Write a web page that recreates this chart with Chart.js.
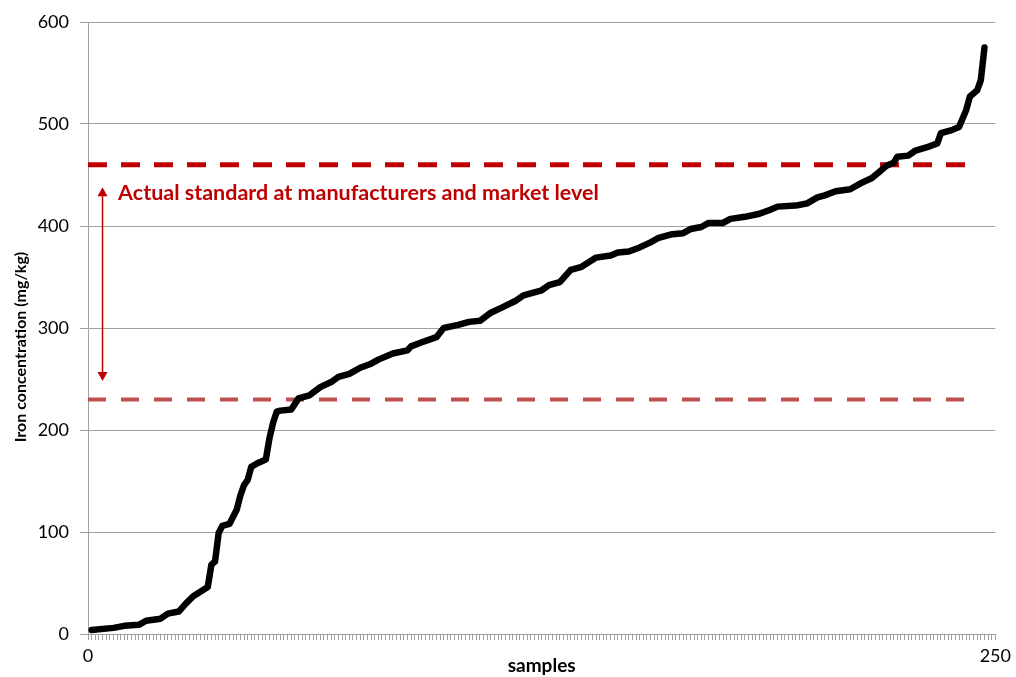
<!DOCTYPE html>
<html><head><meta charset="utf-8">
<script src="https://cdn.jsdelivr.net/npm/chart.js@4.4.1/dist/chart.umd.min.js"></script>
<style>html,body{margin:0;padding:0;background:#fff;}#wrap{width:1016px;height:677px;}</style>
</head><body><div id="wrap"><canvas id="c" width="1016" height="677"></canvas></div>
<script>
// ---- data ----
const sampleIdx = [1,7,10,14,16,20,22,25,27,29,33,34,35,36,37,39,41,42,43,44,45,47,49,50,51,52,53,56,58,61,64,67,69,72,75,78,80,84,88,89,92,96,98,102,105,108,111,114,118,120,124,125,127,130,133,136,140,144,146,149,152,155,157,161,164,166,169,171,175,177,181,185,188,190,195,198,201,203,206,210,213,216,218,220,222,223,226,228,231,234,235,238,240,242,243,245,246,247];
const ironConc  = [4,6,8,9,13,15,20,22,30,37,46,68,71,99,106,108,122,136,146,151,164,168,171,192,207,218,219,220,231,234,242,247,252,255,261,265,269,275,278,282,286,291,300,303,306,307,315,320,327,332,336,337,342,345,357,360,369,371,374,375,379,384,388,392,393,397,399,403,403,407,409,412,416,419,420,422,428,430,434,436,442,447,453,459,462,468,469,474,477,481,491,494,497,514,527,533,543,575];
const stdLevels = [460, 230];          // upper, lower standard lines (mg/kg)
const stdLineX  = [0, 243];            // extent of the dashed lines (samples)
const xTickLabels = ['0', '250'];
const xRange = [0, 250];
const yRange = [0, 600];
const yStep = 100;
const annotText = 'Actual standard at manufacturers and market level';
const annotPos = [8.3, 432];           // [sample, mg/kg]
const arrowX = 4;
const arrowY = [438, 248];
const xTitle = 'samples';
const yTitle = 'Iron concentration (mg/kg)';

const FONT = "Lato, 'Open Sans', sans-serif";
const GRID = '#a0a0a0';

const curve = sampleIdx.map((s, i) => ({x: s, y: ironConc[i]}));
const stdLine = v => stdLineX.map(x => ({x, y: v}));

const overlay = {
  id: 'overlay',
  afterDatasetsDraw(chart) {
    const {ctx, scales: {x, y}} = chart;
    ctx.save();
    // double arrow
    const ax = x.getPixelForValue(arrowX);
    const y1 = y.getPixelForValue(arrowY[0]);
    const y2 = y.getPixelForValue(arrowY[1]);
    ctx.strokeStyle = '#c00000';
    ctx.fillStyle = '#c00000';
    ctx.lineWidth = 1.5;
    ctx.beginPath(); ctx.moveTo(ax, y1 + 8); ctx.lineTo(ax, y2 - 8); ctx.stroke();
    ctx.beginPath(); ctx.moveTo(ax, y1); ctx.lineTo(ax - 5, y1 + 9); ctx.lineTo(ax + 5, y1 + 9); ctx.closePath(); ctx.fill();
    ctx.beginPath(); ctx.moveTo(ax, y2); ctx.lineTo(ax - 5, y2 - 9); ctx.lineTo(ax + 5, y2 - 9); ctx.closePath(); ctx.fill();
    // annotation text
    ctx.font = "bold 21.5px " + FONT;
    ctx.textAlign = 'left';
    ctx.textBaseline = 'middle';
    ctx.fillText(annotText, x.getPixelForValue(annotPos[0]), y.getPixelForValue(annotPos[1]));
    // y axis title
    ctx.fillStyle = '#000';
    ctx.font = "bold 16px " + FONT;
    ctx.textAlign = 'center';
    ctx.translate(21, (chart.chartArea.top + chart.chartArea.bottom) / 2 + 19);
    ctx.rotate(-Math.PI / 2);
    ctx.fillText(yTitle, 0, 0);
    ctx.restore();
  }
};

new Chart(document.getElementById('c'), {
  type: 'line',
  data: {
    datasets: [
      {data: curve, borderColor: '#000', borderWidth: 6.5, pointRadius: 0, tension: 0,
       borderJoinStyle: 'round', borderCapStyle: 'round'},
      {data: stdLine(stdLevels[0]), borderColor: '#c00000', borderWidth: 5, pointRadius: 0,
       borderDash: [19, 14]},
      {data: stdLine(stdLevels[1]), borderColor: '#c0504d', borderWidth: 4, pointRadius: 0,
       borderDash: [18, 15]}
    ]
  },
  options: {
    responsive: false,
    animation: false,
    devicePixelRatio: 1,
    layout: {padding: {top: 22, right: 19, bottom: 0, left: 0}},
    plugins: {legend: {display: false}, tooltip: {enabled: false}},
    scales: {
      x: {
        type: 'linear', min: xRange[0], max: xRange[1],
        afterFit(s) { s.height = 43; },
        border: {color: GRID, width: 1},
        grid: {drawOnChartArea: false, drawTicks: true, tickLength: 6, color: GRID},
        ticks: {
          stepSize: 1, autoSkip: false, maxRotation: 0, padding: 5,
          color: '#000', font: {family: FONT, size: 18},
          callback: v => v === xRange[0] ? xTickLabels[0] : (v === xRange[1] ? xTickLabels[1] : '')
        },
        title: {display: true, text: xTitle, color: '#000', font: {family: FONT, size: 19, weight: 'bold'},
                padding: {top: 0, bottom: 0}}
      },
      y: {
        min: yRange[0], max: yRange[1],
        afterFit(s) { s.width = 88; },
        border: {color: GRID, width: 1},
        grid: {color: GRID, tickLength: 8},
        ticks: {stepSize: yStep, padding: 11, color: '#000', font: {family: FONT, size: 18}}
      }
    }
  },
  plugins: [overlay]
});
</script></body></html>
